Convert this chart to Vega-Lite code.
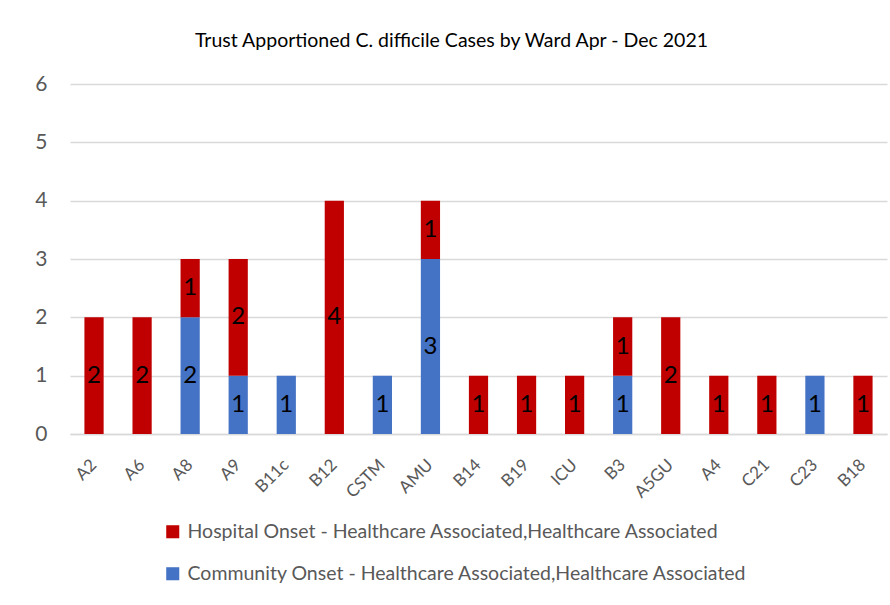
{
  "$schema": "https://vega.github.io/schema/vega-lite/v6.json",
  "width": 817,
  "height": 350,
  "autosize": {"type": "none"},
  "padding": {"left": 70, "top": 84, "right": 3, "bottom": 171},
  "background": "white",
  "title": {
    "text": "Trust Apportioned C. difficile Cases by Ward Apr - Dec 2021",
    "font": "Lato",
    "fontSize": 19.5,
    "fontWeight": "normal",
    "color": "#000000",
    "anchor": "middle",
    "dx": -27,
    "offset": 22
  },
  "data": {
    "values": [
      {"ward": "A2", "onset": "Hospital Onset - Healthcare Associated,Healthcare Associated", "cases": 2},
      {"ward": "A6", "onset": "Hospital Onset - Healthcare Associated,Healthcare Associated", "cases": 2},
      {"ward": "A8", "onset": "Community Onset - Healthcare Associated,Healthcare Associated", "cases": 2},
      {"ward": "A8", "onset": "Hospital Onset - Healthcare Associated,Healthcare Associated", "cases": 1},
      {"ward": "A9", "onset": "Community Onset - Healthcare Associated,Healthcare Associated", "cases": 1},
      {"ward": "A9", "onset": "Hospital Onset - Healthcare Associated,Healthcare Associated", "cases": 2},
      {"ward": "B11c", "onset": "Community Onset - Healthcare Associated,Healthcare Associated", "cases": 1},
      {"ward": "B12", "onset": "Hospital Onset - Healthcare Associated,Healthcare Associated", "cases": 4},
      {"ward": "CSTM", "onset": "Community Onset - Healthcare Associated,Healthcare Associated", "cases": 1},
      {"ward": "AMU", "onset": "Community Onset - Healthcare Associated,Healthcare Associated", "cases": 3},
      {"ward": "AMU", "onset": "Hospital Onset - Healthcare Associated,Healthcare Associated", "cases": 1},
      {"ward": "B14", "onset": "Hospital Onset - Healthcare Associated,Healthcare Associated", "cases": 1},
      {"ward": "B19", "onset": "Hospital Onset - Healthcare Associated,Healthcare Associated", "cases": 1},
      {"ward": "ICU", "onset": "Hospital Onset - Healthcare Associated,Healthcare Associated", "cases": 1},
      {"ward": "B3", "onset": "Community Onset - Healthcare Associated,Healthcare Associated", "cases": 1},
      {"ward": "B3", "onset": "Hospital Onset - Healthcare Associated,Healthcare Associated", "cases": 1},
      {"ward": "A5GU", "onset": "Hospital Onset - Healthcare Associated,Healthcare Associated", "cases": 2},
      {"ward": "A4", "onset": "Hospital Onset - Healthcare Associated,Healthcare Associated", "cases": 1},
      {"ward": "C21", "onset": "Hospital Onset - Healthcare Associated,Healthcare Associated", "cases": 1},
      {"ward": "C23", "onset": "Community Onset - Healthcare Associated,Healthcare Associated", "cases": 1},
      {"ward": "B18", "onset": "Hospital Onset - Healthcare Associated,Healthcare Associated", "cases": 1}
    ]
  },
  "encoding": {
    "x": {
      "field": "ward",
      "type": "nominal",
      "sort": null,
      "title": null,
      "scale": {"paddingInner": 0.6, "paddingOuter": 0.3},
      "axis": {
        "labelAngle": -45,
        "labelAlign": "right",
        "labelBaseline": "middle",
        "labelFont": "Lato",
        "labelFontSize": 17,
        "labelColor": "#595959",
        "labelPadding": 28,
        "ticks": false,
        "domain": true,
        "domainColor": "#d9d9d9",
        "domainWidth": 1.5
      }
    }
  },
  "layer": [
    {
      "mark": {"type": "bar"},
      "encoding": {
        "y": {
          "field": "cases",
          "type": "quantitative",
          "stack": "zero",
          "title": null,
          "scale": {"domain": [0, 6]},
          "axis": {
            "values": [0, 1, 2, 3, 4, 5, 6],
            "format": "d",
            "labelFont": "Lato",
            "labelFontSize": 21,
            "labelColor": "#595959",
            "labelPadding": 23,
            "ticks": false,
            "domain": false,
            "gridColor": "#d9d9d9",
            "gridWidth": 1.5
          }
        },
        "color": {
          "field": "onset",
          "type": "nominal",
          "scale": {
            "domain": [
              "Hospital Onset - Healthcare Associated,Healthcare Associated",
              "Community Onset - Healthcare Associated,Healthcare Associated"
            ],
            "range": ["#C00000", "#4472C4"]
          },
          "legend": {
            "orient": "none",
            "legendX": 93,
            "legendY": 438,
            "title": null,
            "symbolType": "square",
            "symbolSize": 170,
            "symbolStrokeWidth": 0,
            "labelFont": "Lato",
            "labelFontSize": 19.5,
            "labelColor": "#595959",
            "labelLimit": 800,
            "rowPadding": 21,
            "labelOffset": 5
          }
        },
        "order": {"field": "onset", "sort": "ascending"}
      }
    },
    {
      "mark": {"type": "text", "font": "Lato", "fontSize": 24, "color": "#000000", "baseline": "middle"},
      "encoding": {
        "y": {"field": "cases", "type": "quantitative", "stack": "zero", "bandPosition": 0.5},
        "detail": {"field": "onset", "type": "nominal"},
        "order": {"field": "onset", "sort": "ascending"},
        "text": {"field": "cases", "type": "quantitative"}
      }
    }
  ],
  "config": {
    "view": {"stroke": null}
  }
}
